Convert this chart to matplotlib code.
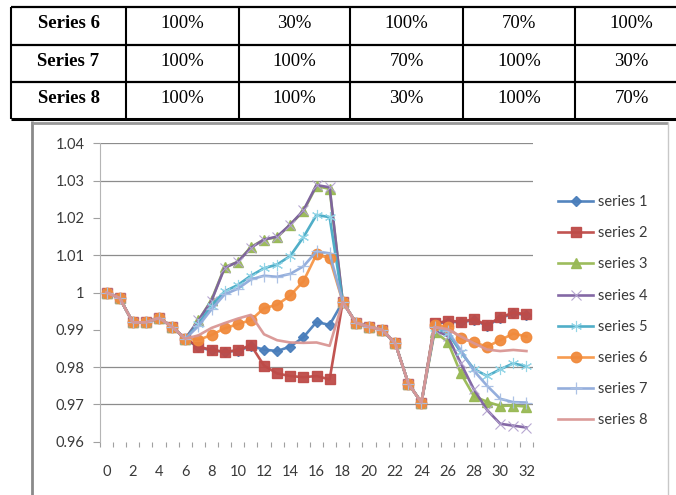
import matplotlib.pyplot as plt
from matplotlib.ticker import FixedLocator, FixedFormatter

# table rows above the chart
row_names = ["Series 6", "Series 7", "Series 8"]
row_values = [["100%", "30%", "100%", "70%", "100%"],
              ["100%", "100%", "70%", "100%", "30%"],
              ["100%", "100%", "30%", "100%", "70%"]]

x = list(range(33))
x_labels = ["0", "2", "4", "6", "8", "10", "12", "14", "16", "18", "20", "22", "24", "26", "28", "30", "32"]
y_ticks = [0.96, 0.97, 0.98, 0.99, 1.0, 1.01, 1.02, 1.03, 1.04]
y_labels = ["0.96", "0.97", "0.98", "0.99", "1", "1.01", "1.02", "1.03", "1.04"]
grid_vals = [0.97, 0.98, 1.01, 1.03, 1.04]

s1 = [1.0, 0.9985, 0.992, 0.992, 0.9932, 0.9908, 0.9876,
      0.9853, 0.9845, 0.9841, 0.9844, 0.9856,
      0.9847, 0.9843, 0.9855, 0.988, 0.9921, 0.9913,
      0.9975, 0.9919, 0.9908, 0.99, 0.9864, 0.9756, 0.9705,
      0.9915, 0.9922, 0.992, 0.9926, 0.9911, 0.9931, 0.9944, 0.994]
s2 = [1.0, 0.9985, 0.992, 0.992, 0.9932, 0.9908, 0.9876,
      0.9855, 0.9846, 0.9841, 0.9845, 0.9859,
      0.9804, 0.9783, 0.9776, 0.9773, 0.9776, 0.9767,
      0.9975, 0.9919, 0.9908, 0.99, 0.9864, 0.9756, 0.9705,
      0.9917, 0.9924, 0.9922, 0.9928, 0.9913, 0.9933, 0.9946, 0.9942]
s3 = [1.0, 0.9985, 0.992, 0.992, 0.9932, 0.9908, 0.9876,
      0.9925, 0.998, 1.0068, 1.0082, 1.0122,
      1.0142, 1.0148, 1.0182, 1.0218, 1.0285, 1.0278,
      0.9975, 0.9919, 0.9908, 0.99, 0.9864, 0.9756, 0.9705,
      0.9895, 0.9868, 0.9783, 0.9722, 0.9707, 0.9696, 0.9697, 0.9694]
s4 = [1.0, 0.9985, 0.992, 0.992, 0.9932, 0.9908, 0.9876,
      0.9925, 0.9978, 1.0066, 1.0082, 1.012,
      1.0142, 1.015, 1.0182, 1.022, 1.0288, 1.0282,
      0.9975, 0.9919, 0.9908, 0.99, 0.9864, 0.9756, 0.9705,
      0.99, 0.9883, 0.981, 0.974, 0.9685, 0.9648, 0.9643, 0.9638]
s5 = [1.0, 0.9985, 0.992, 0.992, 0.9932, 0.9908, 0.9876,
      0.9915, 0.9965, 1.0003, 1.002, 1.0045,
      1.0065, 1.0075, 1.0098, 1.0148, 1.0208, 1.0202,
      0.9975, 0.9919, 0.9908, 0.99, 0.9864, 0.9756, 0.9705,
      0.9905, 0.9892, 0.984, 0.9795, 0.9776, 0.9794, 0.981, 0.9802]
s6 = [1.0, 0.9985, 0.992, 0.992, 0.9932, 0.9908, 0.9876,
      0.9873, 0.9886, 0.9904, 0.9915, 0.9926,
      0.9958, 0.9967, 0.9992, 1.003, 1.0102, 1.0092,
      0.9975, 0.9919, 0.9908, 0.99, 0.9864, 0.9756, 0.9705,
      0.9912, 0.9908, 0.9877, 0.9866, 0.9855, 0.9872, 0.989, 0.9882]
s7 = [1.0, 0.9985, 0.992, 0.992, 0.9932, 0.9908, 0.9876,
      0.991, 0.9955, 0.9995, 1.001, 1.0035,
      1.0045, 1.0042, 1.005, 1.007, 1.011, 1.0105,
      0.9975, 0.9919, 0.9908, 0.99, 0.9864, 0.9756, 0.9705,
      0.9908, 0.9897, 0.9845, 0.979, 0.975, 0.9715, 0.9706, 0.9705]
s8 = [1.0, 0.9985, 0.992, 0.992, 0.9932, 0.9908, 0.9876,
      0.9885, 0.9905, 0.9918, 0.993, 0.994,
      0.9888, 0.9872, 0.9866, 0.9865, 0.9866, 0.9857,
      0.9975, 0.9919, 0.9908, 0.99, 0.9864, 0.9756, 0.9705,
      0.9907, 0.9902, 0.9882, 0.9864, 0.9847, 0.9843, 0.9846, 0.9843]

series = [s1, s2, s3, s4, s5, s6, s7, s8]
names = ["series 1", "series 2", "series 3", "series 4", "series 5", "series 6", "series 7", "series 8"]
# (line colour, marker, marker colour, marker size, marker edge width)
styles = [("#4a7ebb", "D", "#4a7ebb", 5.5, 1),
          ("#be4b48", "s", "#be4b48", 7, 1),
          ("#98b954", "^", "#98b954", 6.5, 1),
          ("#7d60a0", "x", "#b3a2cf", 6.5, 0.8),
          ("#46aac5", (6, 2, 0), "#8fd4e6", 8, 0.8),
          ("#f79646", "o", "#f08a3c", 7.5, 1),
          ("#8eaadb", "+", "#a9bfe4", 8, 0.9),
          ("#d99694", "None", "#d99694", 0, 0)]

fig = plt.figure(figsize=(6.76, 4.95), dpi=100)

# background layer in pixel coords for table and frame
bg = fig.add_axes([0, 0, 1, 1])
bg.set_xlim(0, 676)
bg.set_ylim(495, 0)
bg.axis("off")

col_x = [11, 126, 239, 350, 463, 575, 688]
row_y = [7, 45, 82, 119]
for yy in row_y[:-1]:
    bg.plot([11, 676], [yy, yy], color="black", lw=1.6, solid_capstyle="butt")
bg.plot([11, 676], [119, 119], color="black", lw=2.2, solid_capstyle="butt")
for xx in col_x[:-1]:
    bg.plot([xx, xx], [7, 119], color="black", lw=1.5, solid_capstyle="butt")
for r in range(3):
    base = row_y[r] + 21
    bg.text((col_x[0] + col_x[1]) / 2, base, row_names[r], ha="center", va="baseline",
            family="Liberation Serif", fontsize=13.5, fontweight="bold")
    for c in range(5):
        bg.text((col_x[c + 1] + col_x[c + 2]) / 2, base, row_values[r][c], ha="center", va="baseline",
                family="Liberation Serif", fontsize=13.5)

# chart frame
bg.plot([32, 32], [121, 495], color="#8a8a8a", lw=2, solid_capstyle="butt")
bg.plot([32, 668], [122.5, 122.5], color="#999999", lw=2, solid_capstyle="butt")
bg.plot([668, 668], [122, 495], color="#c8c8c8", lw=1, solid_capstyle="butt")

ax = fig.add_axes([100 / 676, 1 - 441.7 / 495, 433 / 676, (441.7 - 143.3) / 495])
for yv in grid_vals:
    ax.axhline(yv, color="#8c8c8c", lw=0.9, zorder=0)

for s, nm, st in zip(series, names, styles):
    lc, mk, mc, ms, mew = st
    ax.plot(x, s, color=lc, lw=1.9, marker=mk, markersize=ms, markerfacecolor=mc,
            markeredgecolor=mc, markeredgewidth=mew, label=nm, alpha=0.95)

ax.set_xlim(-0.5, 32.5)
ax.set_ylim(0.96, 1.04)
ax.set_facecolor("none")
for sp in ["top", "right", "bottom"]:
    ax.spines[sp].set_visible(False)
ax.spines["left"].set_color("#b5b5b5")
ax.spines["left"].set_linewidth(0.8)

ax.yaxis.set_major_locator(FixedLocator(y_ticks))
ax.yaxis.set_major_formatter(FixedFormatter(y_labels))
ax.tick_params(axis="y", length=5, width=0.8, color="#a0a0a0", pad=6,
               labelsize=10.5, labelcolor="#3a3a3a")

ax.xaxis.set_major_locator(FixedLocator(x[::2]))
ax.xaxis.set_major_formatter(FixedFormatter(x_labels))
ax.xaxis.set_minor_locator(FixedLocator([v - 0.5 for v in x] + [32.5]))
ax.tick_params(axis="x", which="major", length=0, pad=16.5, labelsize=10.5, labelcolor="#3a3a3a")
ax.tick_params(axis="x", which="minor", length=3.5, width=0.8, color="#a0a0a0")
for lab in ax.get_xticklabels() + ax.get_yticklabels():
    lab.set_family("Lato")

leg = ax.legend(loc="upper left", bbox_to_anchor=(558 / 676, 1 - 195 / 495),
                bbox_transform=fig.transFigure, frameon=False, numpoints=1,
                handlelength=2.4, handletextpad=0.35, labelspacing=1.18,
                borderpad=0, borderaxespad=0, prop={"family": "Lato", "size": 10.5})
for t in leg.get_texts():
    t.set_color("#3a3a3a")

fig.savefig("out.png", dpi=100)
